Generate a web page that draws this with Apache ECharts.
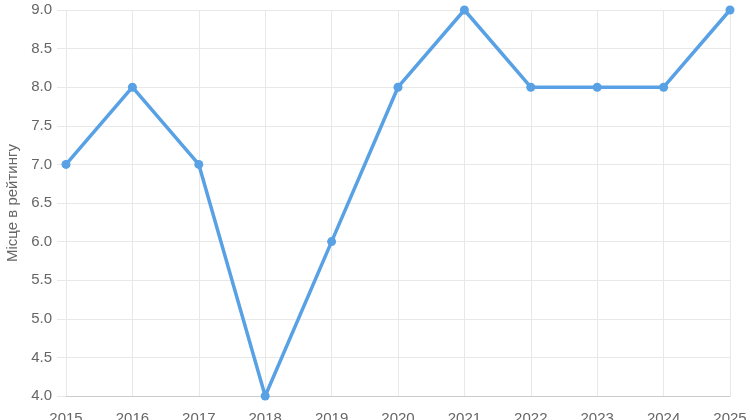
<!DOCTYPE html>
<html><head><meta charset="utf-8">
<script src="https://cdn.jsdelivr.net/npm/echarts@6/dist/echarts.min.js"></script>
<style>html,body{margin:0;padding:0;background:#fff}#c{width:750px;height:420px}</style>
</head><body><div id="c"></div>
<script>
const years = ['2015','2016','2017','2018','2019','2020','2021','2022','2023','2024','2025'];
const ranks = [7, 8, 7, 4, 6, 8, 9, 8, 8, 8, 9];
const yTitle = 'Місце в рейтингу';

const chart = echarts.init(document.getElementById('c'));
chart.setOption({
  animation: false,
  grid: {left: 66, right: 20, top: 10, bottom: 24, containLabel: false, outerBoundsMode: 'none'},
  xAxis: {
    type: 'category', data: years, boundaryGap: false,
    axisLine: {lineStyle: {color: '#ccc'}},
    axisTick: {show: false},
    axisLabel: {color: '#666', fontSize: 15, fontFamily: 'Liberation Sans, Arial', margin: 15, interval: 0},
    splitLine: {show: true, lineStyle: {color: '#e8e8e8'}}
  },
  yAxis: {
    type: 'value', min: 4, max: 9, interval: 0.5,
    name: yTitle, nameLocation: 'middle', nameGap: 44, nameRotate: 90,
    nameTextStyle: {color: '#666', fontSize: 15, fontFamily: 'Liberation Sans, Arial'},
    axisLine: {show: false},
    axisTick: {show: true, length: 9, lineStyle: {color: '#e8e8e8'}},
    axisLabel: {color: '#666', fontSize: 15, fontFamily: 'Liberation Sans, Arial', margin: 14,
      formatter: v => v.toFixed(1)},
    splitLine: {lineStyle: {color: '#e8e8e8'}}
  },
  series: [{
    type: 'line', data: ranks,
    lineStyle: {color: '#58a1e5', width: 3.5},
    itemStyle: {color: '#58a1e5'},
    symbol: 'circle', symbolSize: 9
  }]
});
</script></body></html>
